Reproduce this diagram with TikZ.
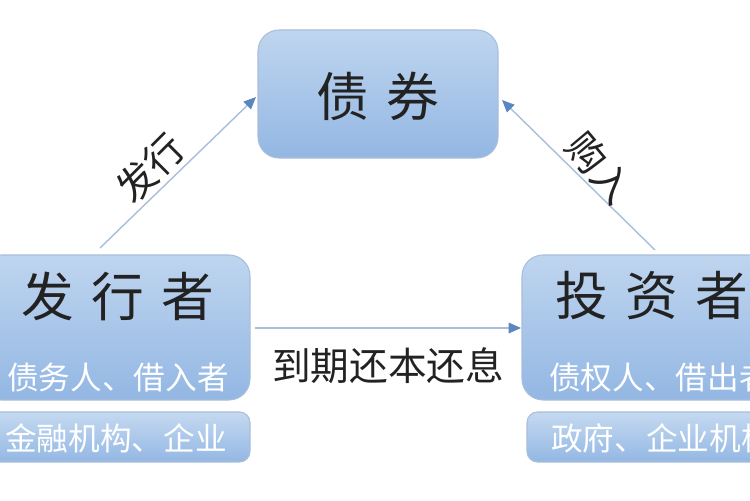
\documentclass[tikz,border=0pt]{standalone}
\usepackage{fontspec}
\setmainfont{Noto Sans CJK SC}
\usetikzlibrary{arrows.meta}
\definecolor{boxtop}{HTML}{BFD5EF}
\definecolor{boxbot}{HTML}{93B7E3}
\definecolor{edge}{HTML}{A9BEDB}
\definecolor{ink}{HTML}{222222}
\definecolor{tip}{HTML}{5B86C0}
\tikzset{
  bigbox/.style={rounded corners=12pt, top color=boxtop, bottom color=boxbot, draw=edge, line width=0.6pt},
  subbox/.style={rounded corners=6pt, top color=boxtop!90!white, bottom color=boxbot, draw=edge, line width=0.6pt},
  conn/.style={draw=edge, line width=0.8pt, -{Triangle[length=7pt,width=6pt,fill=tip,color=tip]}},
}
\begin{document}
\begin{tikzpicture}[x=0.02cm,y=-0.02cm]
\useasboundingbox (0,0) rectangle (750,500);
\clip (0,0) rectangle (750,500);
\fill[white] (0,0) rectangle (750,500);
% boxes
\path[bigbox] (258,30) rectangle (498,158);
\node[font=\fontsize{30}{30}\selectfont, text=ink] (bond) at (378,96) {债\,\,券};
\path[bigbox] (-20,255) rectangle (250,400);
\node[font=\fontsize{30}{30}\selectfont, text=ink] (iss) at (118,296) {发\,\,行\,\,者};
\node[font=\fontsize{18}{18}\selectfont, text=white] (issa) at (118,378) {债务人、借入者};
\path[subbox] (-20,412) rectangle (250,462);
\node[font=\fontsize{18}{18}\selectfont, text=white] (issb) at (116,438) {金融机构、企业};
\path[bigbox] (522,255) rectangle (790,400);
\node[font=\fontsize{30}{30}\selectfont, text=ink] (inv) at (652,296) {投\,\,资\,\,者};
\node[font=\fontsize{18}{18}\selectfont, text=white] (inva) at (660,378) {债权人、借出者};
\path[subbox] (527,412) rectangle (790,462);
\node[font=\fontsize{18}{18}\selectfont, text=white] (invb) at (662,438) {政府、企业机构};
% connectors
\coordinate (a1) at (100,248); \coordinate (a2) at (256,97);
\coordinate (b1) at (655,250); \coordinate (b2) at (502,100);
\coordinate (c1) at (255,328); \coordinate (c2) at (521,328);
\draw[conn] (a1) -- (a2);
\draw[conn] (b1) -- (b2);
\draw[conn] (c1) -- (c2);
\node[font=\fontsize{22}{22}\selectfont, text=ink, rotate=45] (l1) at (150,168) {发行};
\node[font=\fontsize{22}{22}\selectfont, text=ink, rotate=-50] (l2) at (600,168) {购入};
\node[font=\fontsize{22}{22}\selectfont, text=ink] (l3) at (388,366) {到期还本还息};
\end{tikzpicture}
\end{document}
